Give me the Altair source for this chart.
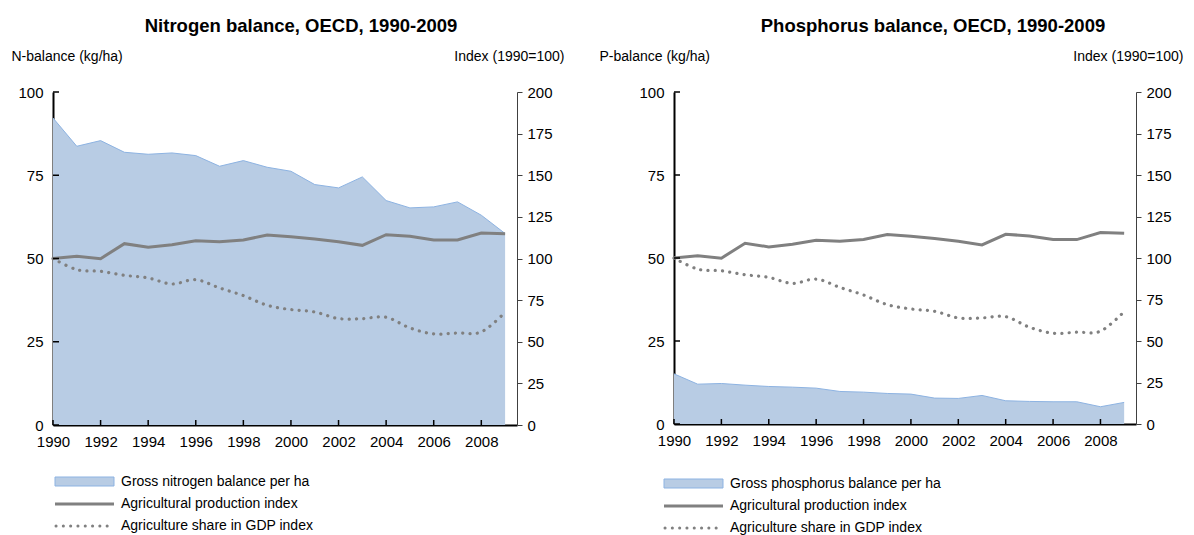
import altair as alt
import pandas as pd

years = list(range(1990, 2010))
n_balance = [92.2, 83.7, 85.4, 81.9, 81.3, 81.7, 80.9, 77.7, 79.4, 77.4,
             76.2, 72.2, 71.2, 74.5, 67.4, 65.2, 65.5, 67.0, 63.0, 57.5]
p_balance = [15.1, 12.0, 12.2, 11.7, 11.3, 11.1, 10.8, 9.8, 9.6, 9.2,
             9.0, 7.8, 7.7, 8.6, 7.0, 6.8, 6.7, 6.7, 5.2, 6.5]
prod_index = [100.0, 101.3, 99.9, 108.9, 106.7, 108.3, 110.7, 110.1, 111.1, 114.1,
              113.1, 111.7, 110.1, 107.9, 114.3, 113.3, 111.1, 111.1, 115.3, 114.9]
gdp_index = [100.0, 93.3, 92.3, 89.9, 88.3, 84.7, 87.3, 82.3, 77.7, 71.9,
             69.3, 67.9, 63.9, 63.9, 64.7, 58.3, 54.7, 55.3, 55.9, 67.7]
x_ticks = list(range(1990, 2009, 2))
left_ticks = [0, 25, 50, 75, 100]
right_ticks = [0, 25, 50, 75, 100, 125, 150, 175, 200]
series_labels = ["Agricultural production index", "Agriculture share in GDP index"]

BG = "#f2ffff"
AREA = "#b8cce4"
AREA_LINE = "#8db3e2"
GREY = "#808080"
FONT = "Liberation Sans"


def panel(title, title_dx, left_title, left_title_x, balance, balance_label,
          w, h, leg_dx, leg_dy):
    df = pd.DataFrame({"year": years, "balance": balance,
                       "prod": prod_index, "gdp": gdp_index})
    xscale = alt.Scale(domain=[1990, 2009.5], nice=False, zero=False)
    lscale = alt.Scale(domain=[0, 100], nice=False)
    x = alt.X("year:Q", scale=xscale,
              axis=alt.Axis(values=x_ticks, format="d", title=None,
                            domainColor="black", domainWidth=2,
                            ticks=False, labelOverlap=False, labelFlush=False,
                            labelFont=FONT, labelFontSize=15, labelColor="black",
                            labelPadding=9,
                            grid=True, gridColor="white", gridWidth=1))
    area = alt.Chart(df).mark_area(
        color=AREA, opacity=1,
        line={"color": AREA_LINE, "strokeWidth": 1}
    ).encode(
        x=x,
        y=alt.Y("balance:Q", scale=lscale,
                axis=alt.Axis(values=left_ticks, title=left_title,
                              titleAngle=0, titleX=left_title_x, titleY=-32,
                              titleAlign="left", titleBaseline="alphabetic",
                              titleFont=FONT, titleFontSize=14,
                              titleFontWeight="normal", titleColor="black",
                              domainColor="black", domainWidth=2,
                              ticks=False, labelFlush=False,
                              labelFont=FONT, labelFontSize=15, labelColor="black",
                              labelPadding=10,
                              grid=True, gridColor="white", gridWidth=1))
    )
    prod = alt.Chart(df).mark_line(color=GREY, strokeWidth=3).encode(
        x=alt.X("year:Q", scale=xscale),
        y=alt.Y("prod:Q", scale=alt.Scale(domain=[0, 200], nice=False),
                axis=alt.Axis(orient="right", values=right_ticks,
                              title="Index (1990=100)",
                              titleAngle=0, titleX=47, titleY=-32,
                              titleAlign="right", titleBaseline="alphabetic",
                              titleFont=FONT, titleFontSize=14,
                              titleFontWeight="normal", titleColor="black",
                              domainColor="#404040", domainWidth=1,
                              tickColor="#404040", tickWidth=1, tickSize=5,
                              labelFlush=False,
                              labelFont=FONT, labelFontSize=15, labelColor="black",
                              labelPadding=5, grid=False))
    )
    gdp = alt.Chart(df).mark_line(
        color=GREY, strokeWidth=3.2, strokeDash=[0.1, 7.2], strokeCap="round",
        interpolate="cardinal"
    ).encode(
        x=alt.X("year:Q", scale=xscale),
        y=alt.Y("gdp:Q", scale=alt.Scale(domain=[0, 200], nice=False), axis=None)
    )
    # inward tick marks on the bottom and left axes
    xt = alt.Chart(pd.DataFrame({"year": x_ticks})).mark_rule(
        color="black", strokeWidth=1.5
    ).encode(x=alt.X("year:Q", scale=xscale), y=alt.value(h - 5), y2=alt.value(h))
    yt = alt.Chart(pd.DataFrame({"v": left_ticks})).mark_rule(
        color="black", strokeWidth=1.5
    ).encode(y=alt.Y("v:Q", scale=lscale, axis=None),
             x=alt.value(0), x2=alt.value(6))

    labels = [balance_label] + series_labels
    rows = [h + leg_dy, h + leg_dy + 22, h + leg_dy + 44]
    leg_text = alt.layer(*[
        alt.Chart(pd.DataFrame({"t": [lab]})).mark_text(
            align="left", baseline="middle", font=FONT, fontSize=14, color="black"
        ).encode(text="t:N", x=alt.value(leg_dx + 66), y=alt.value(rows[i]))
        for i, lab in enumerate(labels)
    ])
    one = pd.DataFrame({"k": [0]})
    leg_area = alt.Chart(one).mark_rect(
        color=AREA, stroke=AREA_LINE, strokeWidth=1
    ).encode(x=alt.value(leg_dx), x2=alt.value(leg_dx + 59),
             y=alt.value(rows[0] - 5), y2=alt.value(rows[0] + 4))
    leg_prod = alt.Chart(one).mark_rule(color=GREY, strokeWidth=3).encode(
        x=alt.value(leg_dx), x2=alt.value(leg_dx + 59), y=alt.value(rows[1]))
    leg_gdp = alt.Chart(one).mark_rule(
        color=GREY, strokeWidth=3, strokeDash=[0.1, 7.2], strokeCap="round"
    ).encode(x=alt.value(leg_dx + 1), x2=alt.value(leg_dx + 59), y=alt.value(rows[2]))

    return alt.layer(area, prod, gdp, xt, yt, leg_area, leg_prod, leg_gdp, leg_text
                     ).resolve_scale(y="independent").properties(
        width=w, height=h,
        title=alt.TitleParams(title, font=FONT, fontSize=18.5, fontWeight="bold",
                              color="black", anchor="middle", frame="group",
                              dx=title_dx, offset=14)
    )


left = panel("Nitrogen balance, OECD, 1990-2009", 16, "N-balance (kg/ha)", -42,
             n_balance, "Gross nitrogen balance per ha", 464, 333, 2, 57)
right = panel("Phosphorus balance, OECD, 1990-2009", 28, "P-balance (kg/ha)", -75,
              p_balance, "Gross phosphorus balance per ha", 462, 332, -10, 60)

chart = alt.hconcat(left, right, spacing=33).configure_view(
    fill=BG, stroke=None
).configure(background="white", padding={"left": 2, "top": 8, "right": 0, "bottom": 0})

chart.save("out.html", embed_options={"renderer": "svg", "actions": False})
